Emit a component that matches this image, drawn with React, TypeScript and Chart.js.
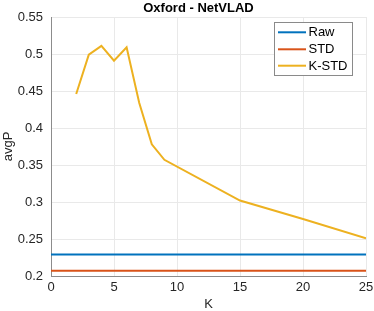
import React, { useEffect, useRef } from "react";
import { Chart, registerables } from "chart.js";

Chart.register(...registerables);

const kValues = [2, 3, 4, 5, 6, 7, 8, 9, 15, 20, 25];
const kstdValues = [0.446, 0.499, 0.511, 0.491, 0.509, 0.434, 0.378, 0.357, 0.302, 0.277, 0.251];
const baselineK = [0, 25];
const rawValue = 0.229;
const stdValue = 0.207;
const seriesNames = ["Raw", "STD", "K-STD"];
const seriesColors = ["#0072BD", "#D95319", "#EDB120"];
const titleText = "Oxford - NetVLAD";
const xTitle = "K";
const yTitle = "avgP";

const FONT = "'Liberation Sans', Arial, Helvetica, sans-serif";

const decorPlugin = {
  id: "decor",
  afterDraw(chart: any) {
    const ctx = chart.ctx;
    const ca = chart.chartArea;
    ctx.save();
    ctx.fillStyle = "#000";
    ctx.font = `bold 13px ${FONT}`;
    ctx.textAlign = "center";
    ctx.textBaseline = "middle";
    ctx.fillText(titleText, 198.5, 8.5);
    ctx.font = `13px ${FONT}`;
    ctx.fillStyle = "#262626";
    ctx.fillText(xTitle, (ca.left + ca.right) / 2, 304.5);
    ctx.save();
    ctx.translate(8, (ca.top + ca.bottom) / 2);
    ctx.rotate(-Math.PI / 2);
    ctx.fillText(yTitle, 0, 0);
    ctx.restore();
    const bx = 274.5, by = 22.5, bw = 78, bh = 53;
    ctx.fillStyle = "#fff";
    ctx.fillRect(bx, by, bw, bh);
    ctx.strokeStyle = "#8a8a8a";
    ctx.lineWidth = 1;
    ctx.strokeRect(bx, by, bw, bh);
    const rows = [32.3, 49.3, 65.7];
    seriesNames.forEach((name, i) => {
      ctx.strokeStyle = seriesColors[i];
      ctx.lineWidth = 2;
      ctx.beginPath();
      ctx.moveTo(278, rows[i]);
      ctx.lineTo(306, rows[i]);
      ctx.stroke();
      ctx.fillStyle = "#000";
      ctx.textAlign = "left";
      ctx.textBaseline = "middle";
      ctx.font = `13px ${FONT}`;
      ctx.fillText(name, 308.5, rows[i] + 0.5);
    });
    ctx.restore();
  },
};

export default function App() {
  const ref = useRef<HTMLCanvasElement>(null);
  useEffect(() => {
    document.body.style.margin = "0";
    const canvas = ref.current!;
    const chart = new Chart(canvas, {
      type: "line",
      data: {
        datasets: [
          {
            label: seriesNames[0],
            data: baselineK.map((k) => ({ x: k, y: rawValue })),
            borderColor: seriesColors[0],
            backgroundColor: seriesColors[0],
            borderWidth: 2,
            pointRadius: 0,
          },
          {
            label: seriesNames[1],
            data: baselineK.map((k) => ({ x: k, y: stdValue })),
            borderColor: seriesColors[1],
            backgroundColor: seriesColors[1],
            borderWidth: 2,
            pointRadius: 0,
          },
          {
            label: seriesNames[2],
            data: kValues.map((k, i) => ({ x: k, y: kstdValues[i] })),
            borderColor: seriesColors[2],
            backgroundColor: seriesColors[2],
            borderWidth: 2,
            pointRadius: 0,
          },
        ],
      },
      options: {
        responsive: false,
        animation: false,
        layout: { padding: { top: 17, right: 8, left: 0, bottom: 0 } },
        plugins: { legend: { display: false }, title: { display: false }, tooltip: { enabled: false } },
        scales: {
          x: {
            type: "linear",
            min: 0,
            max: 25,
            ticks: { stepSize: 5, color: "#262626", font: { family: FONT, size: 13 }, padding: 4, maxRotation: 0 },
            grid: { color: "#e9e9e9", drawTicks: false, lineWidth: 1 },
            border: { color: "#8c8c8c", width: 1 },
            afterFit: (s: any) => { s.height = 35; s.paddingLeft = 0; s.paddingRight = 0; },
          },
          y: {
            min: 0.2,
            max: 0.55,
            ticks: {
              stepSize: 0.05,
              color: "#262626",
              font: { family: FONT, size: 13 },
              padding: 8,
              callback: (v: any) => String(Math.round(Number(v) * 100) / 100),
            },
            grid: { color: "#e9e9e9", drawTicks: false, lineWidth: 1 },
            border: { color: "#8c8c8c", width: 1 },
            afterFit: (s: any) => { s.width = 51; s.paddingTop = 0; s.paddingBottom = 0; },
          },
        },
      },
      plugins: [decorPlugin],
    } as any);
    return () => chart.destroy();
  }, []);
  return (
    <div style={{ position: "absolute", left: 0, top: 0, width: 374, height: 311, background: "#fff" }}>
      <canvas ref={ref} width={374} height={311} style={{ width: 374, height: 311 }} />
    </div>
  );
}
